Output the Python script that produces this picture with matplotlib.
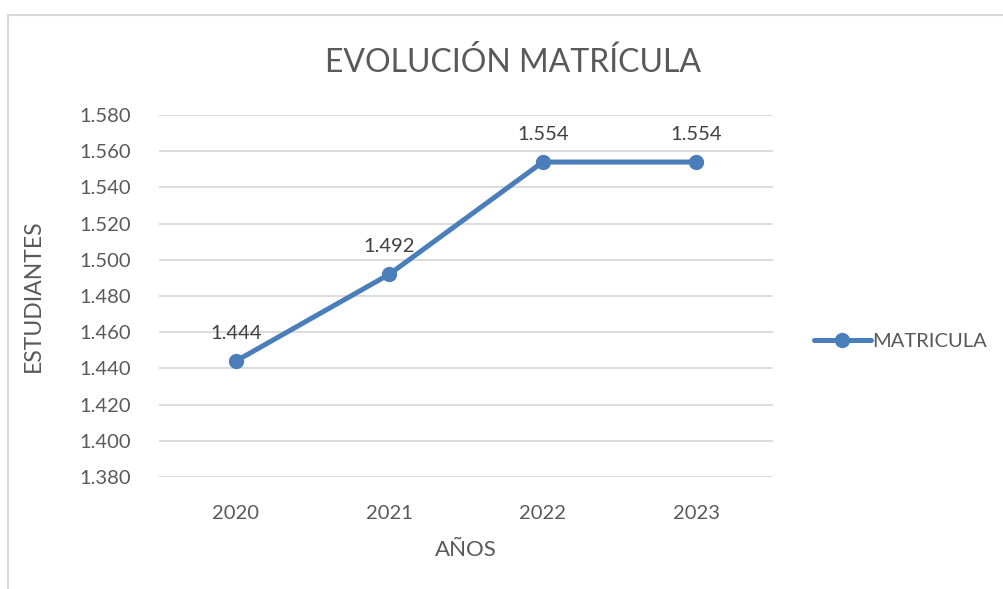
import matplotlib.pyplot as plt
from matplotlib.ticker import FuncFormatter
from matplotlib.lines import Line2D

plt.rcParams['font.family'] = ['Lato', 'DejaVu Sans']

years = ['2020', '2021', '2022', '2023']
matricula = [1444, 1492, 1554, 1554]
y_ticks = [1380, 1400, 1420, 1440, 1460, 1480, 1500, 1520, 1540, 1560, 1580]

blue = '#4a7ebb'
grey_text = '#595959'

fig = plt.figure(figsize=(10.04, 5.89), dpi=100)
ax = fig.add_axes([159 / 1004, 1 - 477 / 589, 614 / 1004, 362 / 589])

x = range(len(years))
ax.plot(x, matricula, color=blue, lw=3.6, marker='o', ms=10, solid_capstyle='round')

for i, v in zip(x, matricula):
    label = f'{v:,}'.replace(',', '.')
    ax.annotate(label, (i, v), xytext=(0, 20), textcoords='offset points',
                ha='center', va='center', fontsize=14.5, color='#404040')

ax.set_xlim(-0.5, len(years) - 0.5)
ax.set_ylim(1380, 1580)
ax.set_xticks(list(x))
ax.set_xticklabels(years)
ax.set_yticks(y_ticks)
ax.yaxis.set_major_formatter(FuncFormatter(lambda v, p: f'{int(v):,}'.replace(',', '.')))
ax.tick_params(length=0, labelsize=14.5, labelcolor=grey_text, pad=20)
ax.tick_params(axis='x', pad=20)
ax.grid(axis='y', color='#d9d9d9', lw=1.3)
ax.set_axisbelow(True)
for s in ax.spines.values():
    s.set_visible(False)

ax.set_ylabel('ESTUDIANTES', fontsize=16.5, color=grey_text, labelpad=26)
ax.set_xlabel('AÑOS', fontsize=16, color=grey_text, labelpad=13)

fig.text(513 / 1004, 1 - 62 / 589, 'EVOLUCIÓN MATRÍCULA', ha='center', va='center',
         fontsize=23, color=grey_text)

handle = Line2D([], [], color=blue, lw=3.6, marker='o', ms=10, solid_capstyle='round')
fig.legend([handle], ['MATRICULA'], loc='center left', bbox_to_anchor=(796 / 1004, 1 - 341 / 589),
           frameon=False, fontsize=14.5, labelcolor=grey_text, handlelength=2.8, handletextpad=0.1)

# chart area border (left and top only visible in the crop)
fig.add_artist(Line2D([8 / 1004, 8 / 1004], [0, 1 - 15 / 589], color='#d9d9d9', lw=1.5,
                      transform=fig.transFigure))
fig.add_artist(Line2D([8 / 1004, 1], [1 - 15 / 589, 1 - 15 / 589], color='#d9d9d9', lw=1.5,
                      transform=fig.transFigure))

fig.savefig('out.png', dpi=100)
